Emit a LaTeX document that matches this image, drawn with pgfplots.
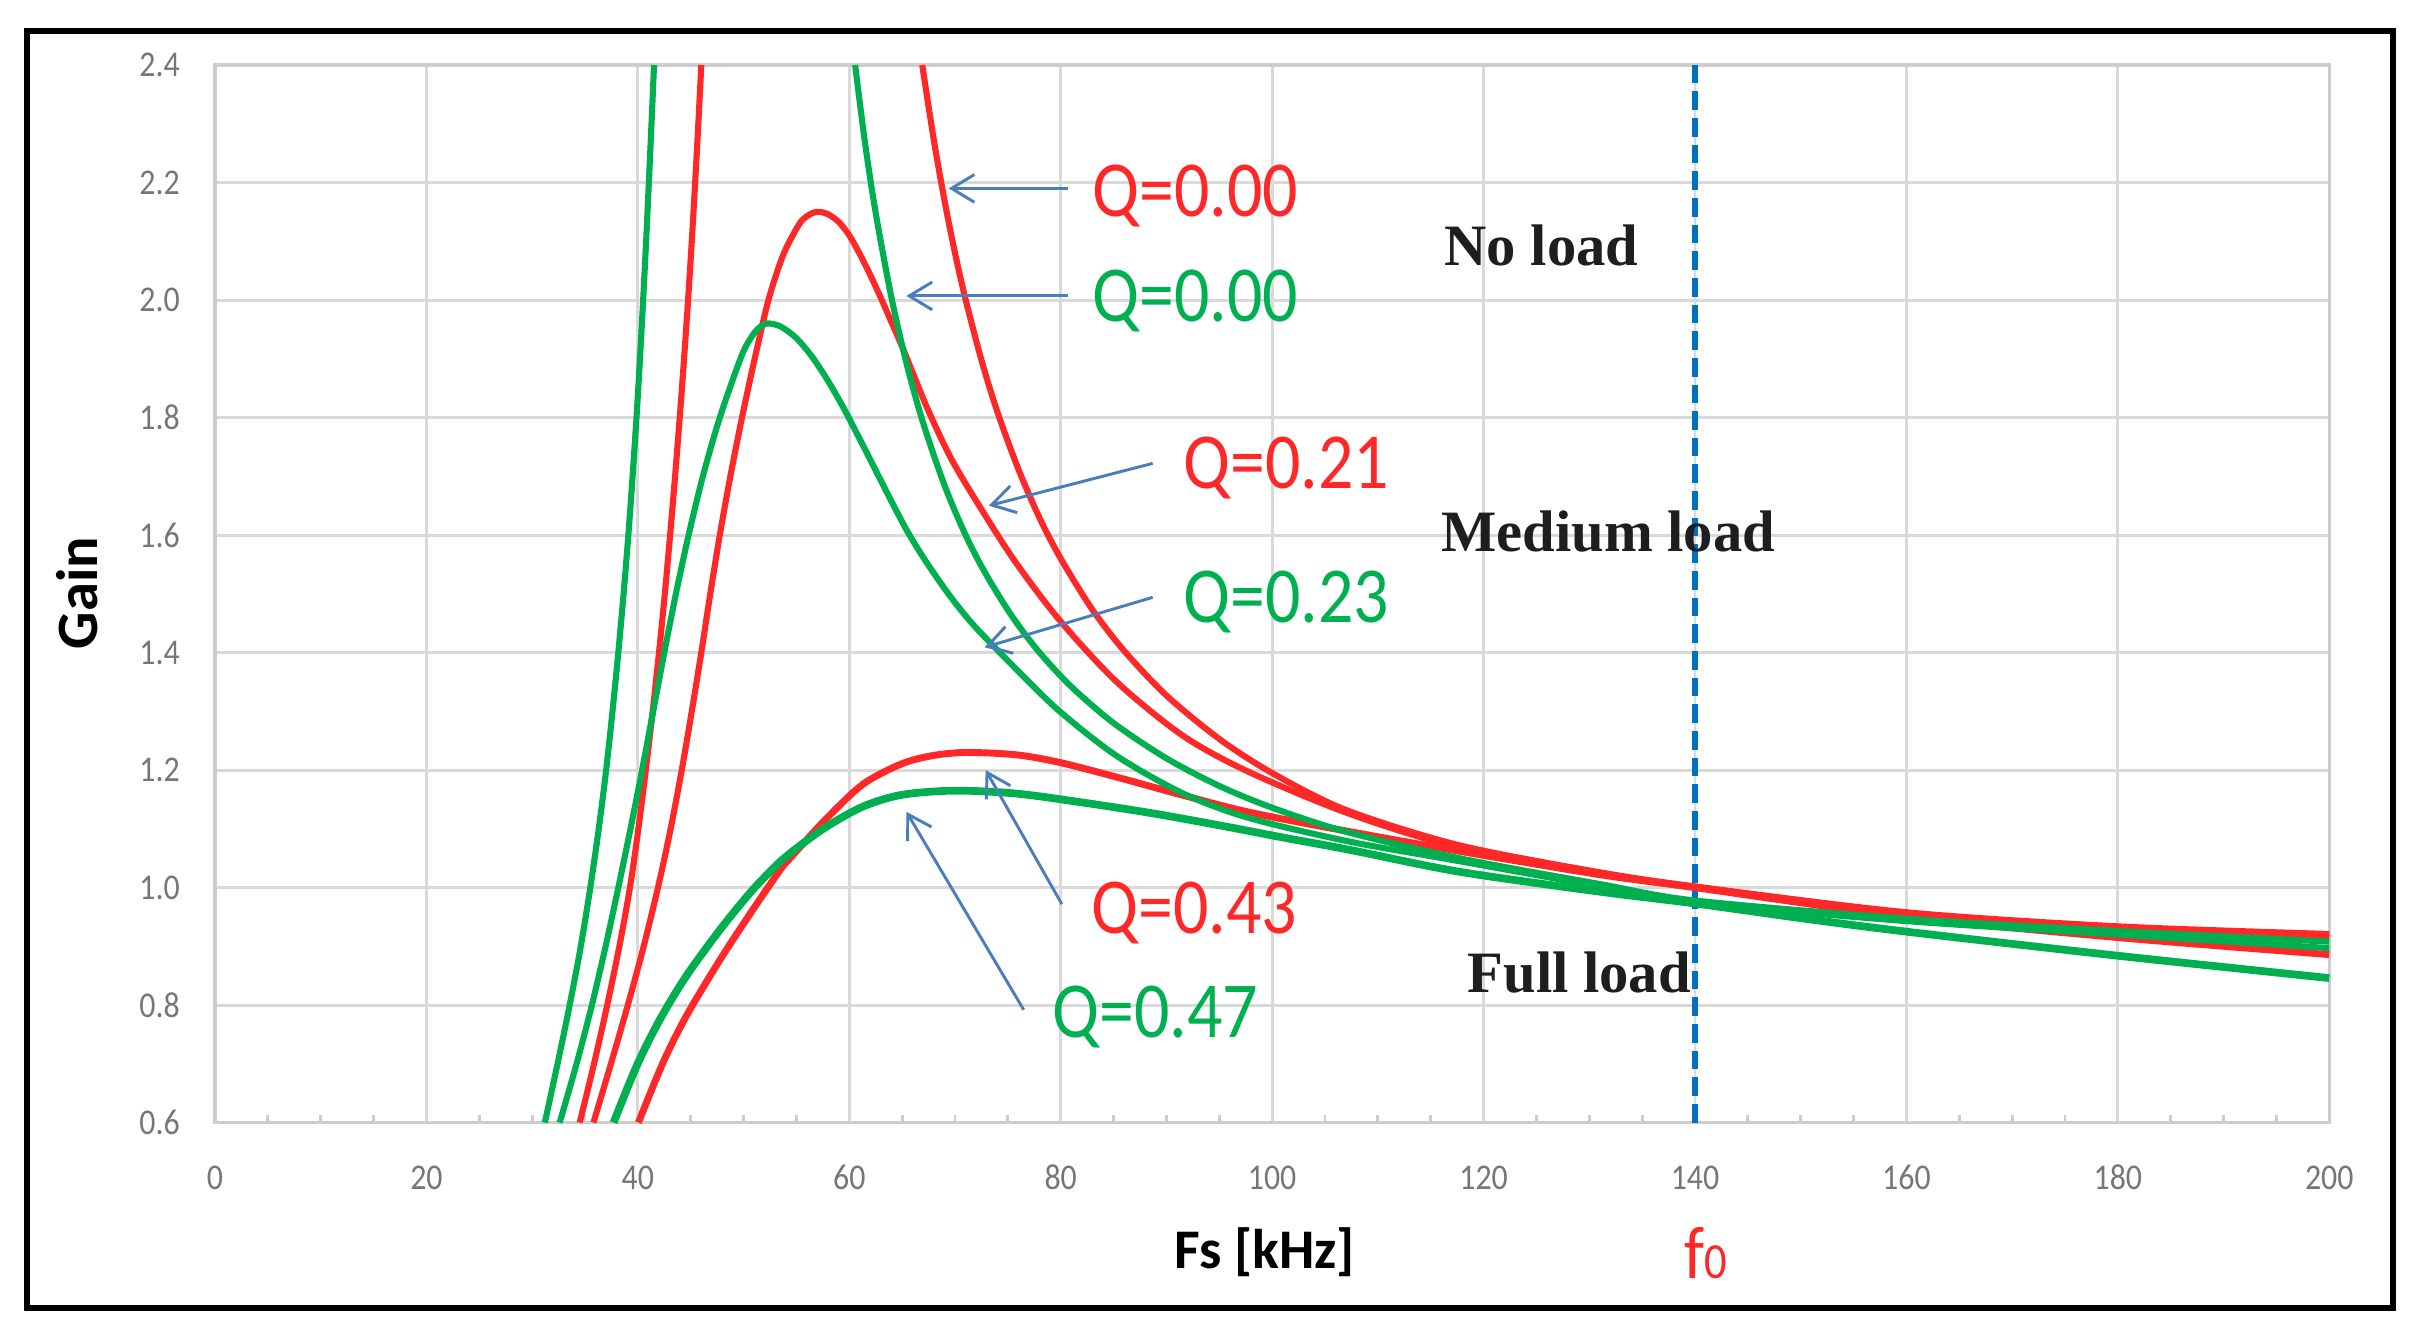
\documentclass[border=0pt]{standalone}
\usepackage{fontspec}
\setmainfont{Carlito}
\newfontfamily\nfont{Carlito}[FakeStretch=0.88]
\newfontfamily\sfont{Liberation Serif}
\usepackage{pgfplots}
\pgfplotsset{compat=1.18}
\usetikzlibrary{arrows.meta}
\definecolor{cred}{RGB}{255,40,40}
\definecolor{cgreen}{RGB}{0,176,80}
\definecolor{carrow}{RGB}{74,126,187}
\definecolor{cdash}{RGB}{0,112,192}
\definecolor{cgrid}{RGB}{217,217,217}
\definecolor{caxis}{RGB}{205,205,205}
\definecolor{ctick}{RGB}{118,118,118}
\definecolor{ctext}{RGB}{30,30,30}
\begin{document}
\begin{tikzpicture}
\useasboundingbox (0,0) rectangle (16cm,8.851cm);
\draw[line width=1.13pt] (0.178cm,0.224cm) rectangle (15.782cm,8.649cm);
\begin{axis}[
  at={(1.418cm,1.447cm)}, anchor=south west,
  scale only axis, width=13.944cm, height=6.975cm,
  xmin=0, xmax=200, ymin=0.6, ymax=2.4,
  xtick={0,20,40,60,80,100,120,140,160,180,200},
  ytick={0.6,0.8,1.0,1.2,1.4,1.6,1.8,2.0,2.2,2.4},
  minor x tick num=3,
  grid=major,
  major grid style={cgrid, line width=0.55pt},
  axis line style={caxis, line width=0.6pt},
  tick align=inside,
  xtick pos=left, ytick pos=left,
  major tick length=0pt,
  minor tick length=1.5pt,
  minor tick style={caxis, line width=0.55pt},
  clip=false,
  /pgf/number format/assume math mode=true,
  xticklabel style={font=\nfont\fontsize{6.8}{8}\selectfont, text=ctick, anchor=center, inner sep=0pt, yshift=-10.3pt},
  yticklabel style={font=\nfont\fontsize{6.8}{8}\selectfont, text=ctick, anchor=east, inner sep=0pt, xshift=-6.4pt,
     /pgf/number format/.cd, fixed, fixed zerofill, precision=1},
]
% f0 line
\addplot[cdash, line width=1.25pt, dash pattern=on 3.5pt off 1.5pt] coordinates {(140,0.6) (140,2.4)};

% red Q=0.00 (left and right branch)
\addplot[cred, line width=1.15pt, smooth] coordinates {
(34.5,0.60) (35.85,0.70) (37.1,0.80) (38.25,0.90) (39.25,1.00) (40.05,1.10) (40.75,1.20) (41.4,1.30) (42.0,1.40) (42.55,1.50) (43.05,1.60) (43.52,1.70) (43.96,1.80) (44.37,1.90) (44.75,2.00) (45.1,2.10) (45.42,2.20) (45.72,2.30) (46.0,2.40)};
\addplot[cred, line width=1.15pt, smooth] coordinates {
(66.9,2.40) (68.0,2.272) (69.0,2.170) (70.0,2.080) (71.0,2.001) (72.5,1.898) (74.0,1.810) (76.0,1.712) (78.0,1.629) (80.0,1.560) (83.0,1.473) (86.0,1.403) (90.0,1.327) (95.0,1.253) (100.0,1.195) (107.0,1.132) (117.7,1.072) (131.0,1.026) (140.0,1.002) (160.0,0.958) (180.0,0.934) (200.0,0.921)};
% red Q=0.21
\addplot[cred, line width=1.15pt, smooth] coordinates {
(35.8,0.60) (37.45,0.70) (39.05,0.80) (40.55,0.90) (41.9,1.00) (43.1,1.10) (44.15,1.20) (45.1,1.30) (46.0,1.40) (46.85,1.50) (47.75,1.60) (48.75,1.70) (49.85,1.80) (51.05,1.90) (52.35,2.00) (53.6,2.07) (54.5,2.105) (55.5,2.135) (56.5,2.148) (57.2,2.150) (58.0,2.146) (59.0,2.133) (60.0,2.110) (61.0,2.078) (62.0,2.042) (63.0,2.003) (64.0,1.962) (65.2,1.912) (67.4,1.815) (69.7,1.728) (72.7,1.638) (75.8,1.552) (79.9,1.455) (85.3,1.350) (91.6,1.258) (97.9,1.196) (107.4,1.125) (117.7,1.068) (131.0,1.024) (140.0,1.000) (160.0,0.956) (180.0,0.932) (200.0,0.917)};
% red Q=0.43
\addplot[cred, line width=1.3pt, smooth] coordinates {
(40.05,0.60) (42.4,0.703) (44.6,0.782) (47.8,0.878) (50.9,0.963) (53.5,1.031) (54.5,1.052) (57.7,1.115) (61.3,1.176) (65.0,1.211) (68.0,1.225) (71.1,1.230) (75.8,1.226) (79.9,1.213) (85.3,1.188) (91.6,1.157) (97.9,1.128) (107.4,1.095) (117.7,1.062) (131.0,1.022) (140.0,1.000) (160.0,0.950) (180.0,0.915) (200.0,0.886)};

% green Q=0.00 (left and right branch)
\addplot[cgreen, line width=1.15pt, smooth] coordinates {
(31.2,0.60) (32.4,0.70) (33.55,0.80) (34.6,0.90) (35.5,1.00) (36.3,1.10) (37.0,1.20) (37.6,1.30) (38.15,1.40) (38.65,1.50) (39.1,1.60) (39.5,1.70) (39.87,1.80) (40.2,1.90) (40.5,2.00) (40.78,2.10) (41.04,2.20) (41.29,2.30) (41.53,2.40)};
\addplot[cgreen, line width=1.15pt, smooth] coordinates {
(60.55,2.40) (61.5,2.266) (62.5,2.148) (64.0,2.003) (65.5,1.886) (67.0,1.790) (69.0,1.685) (71.0,1.600) (73.0,1.531) (75.5,1.459) (78.0,1.400) (81.0,1.342) (85.0,1.280) (90.0,1.220) (95.0,1.173) (100.0,1.136) (107.0,1.095) (117.7,1.050) (131.0,1.006) (140.0,0.978) (160.0,0.947) (180.0,0.926) (200.0,0.908)};
% green Q=0.23
\addplot[cgreen, line width=1.15pt, smooth] coordinates {
(32.6,0.60) (34.2,0.70) (35.65,0.80) (36.95,0.90) (38.15,1.00) (39.3,1.10) (40.4,1.20) (41.45,1.30) (42.5,1.40) (43.6,1.50) (44.8,1.60) (46.15,1.70) (47.75,1.80) (49.7,1.90) (50.5,1.93) (51.3,1.95) (52.2,1.960) (53.5,1.955) (55.0,1.935) (56.5,1.903) (58.0,1.862) (59.5,1.815) (61.0,1.763) (62.5,1.710) (64.0,1.657) (65.5,1.606) (67.0,1.562) (68.5,1.522) (70.0,1.485) (72.0,1.442) (76.0,1.368) (79.9,1.300) (85.3,1.224) (91.6,1.160) (97.9,1.118) (107.4,1.078) (117.7,1.045) (131.0,1.002) (140.0,0.975) (160.0,0.943) (180.0,0.920) (200.0,0.897)};
% green Q=0.47
\addplot[cgreen, line width=1.45pt, smooth] coordinates {
(37.7,0.60) (39.9,0.697) (42.1,0.776) (44.6,0.850) (47.8,0.929) (50.9,0.997) (53.5,1.045) (54.5,1.06) (57.7,1.102) (61.3,1.138) (65.0,1.158) (70.0,1.165) (75.8,1.160) (82.0,1.145) (88.5,1.127) (95.0,1.106) (101.1,1.085) (107.4,1.064) (117.7,1.027) (131.0,0.993) (140.0,0.973) (150.0,0.948) (160.0,0.925) (180.0,0.884) (200.0,0.846)};

% arrows
\begin{scope}[carrow, line width=0.55pt, -{Straight Barb[length=4.3pt,width=5.2pt]}]
\draw (axis cs:80.7,2.19) -- (axis cs:69.4,2.19);
\draw (axis cs:80.7,2.007) -- (axis cs:65.4,2.007);
\draw (axis cs:88.7,1.722) -- (axis cs:73.2,1.650);
\draw (axis cs:88.7,1.494) -- (axis cs:72.8,1.409);
\draw (axis cs:80.1,0.972) -- (axis cs:72.9,1.200);
\draw (axis cs:76.5,0.792) -- (axis cs:65.4,1.129);
\end{scope}

% Q labels
\begin{scope}[every node/.style={anchor=base west, inner sep=0pt, font=\nfont\fontsize{14.9}{17}\selectfont}]
\node[text=cred] at (axis cs:82.9,2.142) {Q=0.00};
\node[text=cgreen] at (axis cs:82.9,1.963) {Q=0.00};
\node[text=cred] at (axis cs:91.5,1.680) {Q=0.21};
\node[text=cgreen] at (axis cs:91.5,1.451) {Q=0.23};
\node[text=cred] at (axis cs:82.8,0.922) {Q=0.43};
\node[text=cgreen] at (axis cs:79.1,0.745) {Q=0.47};
\end{scope}

% load labels
\begin{scope}[every node/.style={anchor=base west, inner sep=0pt, text=ctext, font=\sfont\bfseries\fontsize{11}{13}\selectfont}]
\node at (axis cs:116.2,2.059) {No load};
\node at (axis cs:115.9,1.572) {Medium load};
\node at (axis cs:118.4,0.821) {Full load};
\end{scope}

% f0
\node[anchor=base west, inner sep=0pt, text=cred, font=\nfont] at (axis cs:138.9,0.335) {{\fontsize{14}{16}\selectfont f}{\fontsize{9.5}{11}\selectfont 0}};

% axis labels
\node[font=\bfseries\fontsize{10.5}{12}\selectfont, inner sep=0pt] at (axis cs:99.3,0.379) {Fs [kHz]};
\node[rotate=90, font=\bfseries\fontsize{11}{13}\selectfont, inner sep=0pt] at (axis cs:-13.0,1.501) {Gain};
\end{axis}
\end{tikzpicture}
\end{document}
